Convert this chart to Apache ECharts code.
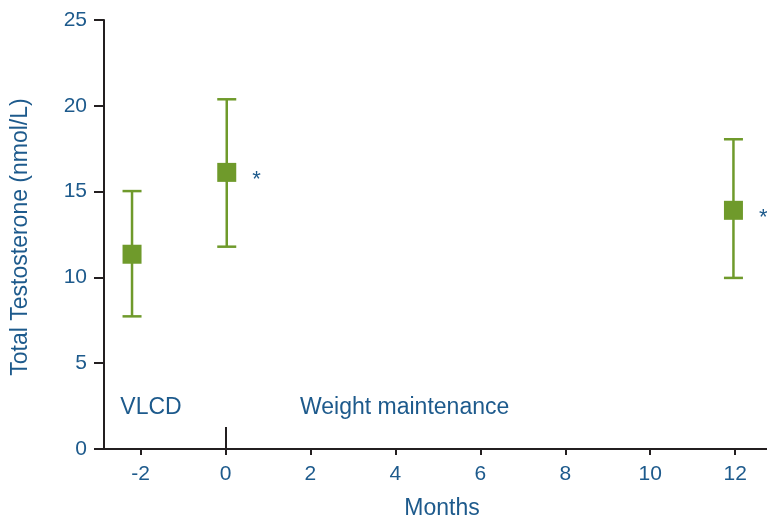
<!DOCTYPE html>
<html>
<head>
<meta charset="utf-8">
<script src="https://cdn.jsdelivr.net/npm/echarts@6/dist/echarts.min.js"></script>
<style>html,body{margin:0;padding:0;background:#fff}#c{width:767px;height:521px}</style>
</head>
<body>
<div id="c"></div>
<script>
const months = [-2.2, 0.03, 11.96];
const means = [11.35, 16.12, 13.91];
const lower = [7.73, 11.79, 9.97];
const upper = [15.03, 20.38, 18.05];
const marks = ['', '*', '*'];
const xTicks = [-2, 0, 2, 4, 6, 8, 10, 12];
const phaseTicks = [0];
const yTitle = 'Total Testosterone (nmol/L)';
const xTitle = 'Months';
const phaseLabels = ['VLCD', 'Weight maintenance'];

const blue = '#1d5a8c';
const green = '#6f9a2b';
const axisColor = '#231f20';
const font = 'Liberation Sans';

const chart = echarts.init(document.getElementById('c'), null, {renderer: 'canvas'});
const option = {
  animation: false,
  grid: {left: 104, right: 0, top: 20, bottom: 72, containLabel: false},
  xAxis: [{
    type: 'value', min: -2.86, max: 12.75,
    axisLine: {show: true, onZero: false, lineStyle: {color: axisColor, width: 2}},
    axisTick: {show: true, length: 6, customValues: xTicks, lineStyle: {color: axisColor, width: 2}},
    axisLabel: {customValues: xTicks, color: blue, fontFamily: font, fontSize: 21, margin: 15},
    splitLine: {show: false}
  }, {
    type: 'value', min: -2.86, max: 12.75, position: 'bottom',
    axisLine: {show: false, onZero: false},
    axisTick: {show: true, inside: true, length: 22, customValues: phaseTicks, lineStyle: {color: axisColor, width: 2}},
    axisLabel: {show: false},
    splitLine: {show: false}
  }],
  yAxis: {
    type: 'value', min: 0, max: 25, interval: 5,
    axisLine: {show: true, onZero: false, lineStyle: {color: axisColor, width: 2}},
    axisTick: {show: true, length: 10, lineStyle: {color: axisColor, width: 2}},
    axisLabel: {color: blue, fontFamily: font, fontSize: 21, margin: 17},
    splitLine: {show: false}
  },
  graphic: [
    {type: 'text', x: 21, y: 237, rotation: Math.PI / 2,
     style: {text: yTitle, fill: blue, font: '23px "' + font + '"', textAlign: 'center', textVerticalAlign: 'middle'}},
    {type: 'text', x: 442, y: 509,
     style: {text: xTitle, fill: blue, font: '23px "' + font + '"', textAlign: 'center', textVerticalAlign: 'middle'}},
    {type: 'text', x: 151, y: 408,
     style: {text: phaseLabels[0], fill: blue, font: '23px "' + font + '"', textAlign: 'center', textVerticalAlign: 'middle'}},
    {type: 'text', x: 300, y: 408,
     style: {text: phaseLabels[1], fill: blue, font: '23px "' + font + '"', textAlign: 'left', textVerticalAlign: 'middle'}}
  ],
  series: [{
    type: 'custom',
    xAxisIndex: 0,
    data: months.map((m, i) => [m, lower[i], upper[i]]),
    renderItem: function (params, api) {
      const x = api.value(0);
      const lo = api.coord([x, api.value(1)]);
      const hi = api.coord([x, api.value(2)]);
      const hw = 9.5;
      const st = {stroke: green, lineWidth: 2.5};
      return {type: 'group', children: [
        {type: 'line', shape: {x1: lo[0], y1: lo[1], x2: hi[0], y2: hi[1]}, style: st},
        {type: 'line', shape: {x1: lo[0] - hw, y1: lo[1], x2: lo[0] + hw, y2: lo[1]}, style: st},
        {type: 'line', shape: {x1: hi[0] - hw, y1: hi[1], x2: hi[0] + hw, y2: hi[1]}, style: st}
      ]};
    },
    z: 2
  }, {
    type: 'scatter',
    xAxisIndex: 0,
    data: months.map((m, i) => [m, means[i]]),
    symbol: 'rect',
    symbolSize: 19,
    itemStyle: {color: green, opacity: 1},
    label: {
      show: true, position: 'right', distance: 16, offset: [0, 8],
      formatter: p => marks[p.dataIndex],
      color: blue, fontFamily: font, fontSize: 22
    },
    z: 3
  }]
};
chart.setOption(option);
</script>
</body>
</html>
